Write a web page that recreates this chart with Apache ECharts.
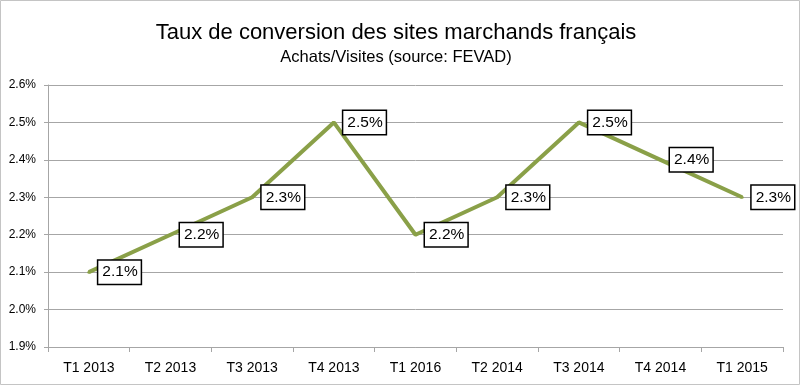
<!DOCTYPE html>
<html><head><meta charset="utf-8">
<script src="https://cdn.jsdelivr.net/npm/echarts@6/dist/echarts.min.js"></script>
<style>html,body{margin:0;padding:0;background:#fff}#c{width:800px;height:386px}</style>
</head><body><div id="c"></div>
<script>
const categories = ['T1 2013','T2 2013','T3 2013','T4 2013','T1 2016','T2 2014','T3 2014','T4 2014','T1 2015'];
const values = [2.1, 2.2, 2.3, 2.5, 2.2, 2.3, 2.5, 2.4, 2.3];
const yMin = 1.9, yMax = 2.6, yStep = 0.1;
const titleText = 'Taux de conversion des sites marchands français';
const subtitleText = 'Achats/Visites (source: FEVAD)';

const chart = echarts.init(document.getElementById('c'), null, {renderer:'canvas'});
const font = 'Liberation Sans';
const lineColor = '#8aa048';
chart.setOption({
  animation: false,
  backgroundColor: '#fff',
  title: {
    text: titleText, subtext: subtitleText, left: 391, textAlign: 'center', top: 17, itemGap: 5,
    textStyle: {fontFamily: font, fontSize: 22, fontWeight: 'normal', color: '#000'},
    subtextStyle: {fontFamily: font, fontSize: 16.5, color: '#000'}
  },
  graphic: [{type:'rect', shape:{x:0.5,y:0.5,width:799,height:384}, style:{fill:'none', stroke:'#c4c4c4', lineWidth:1}, silent:true}],
  grid: {left: 48, right: 17, top: 85, bottom: 39},
  xAxis: {
    type: 'category', data: categories, boundaryGap: true,
    axisLine: {lineStyle: {color: '#a6a6a6', width: 1}},
    axisTick: {show: true, length: 5, lineStyle: {color: '#a6a6a6'}},
    axisLabel: {fontFamily: font, fontSize: 14, color: '#000', margin: 14}
  },
  yAxis: {
    type: 'value', min: yMin, max: yMax, interval: yStep,
    axisLine: {show: true, lineStyle: {color: '#a6a6a6', width: 1}},
    axisTick: {show: true, length: 4, lineStyle: {color: '#a6a6a6'}},
    splitLine: {lineStyle: {color: '#a6a6a6', width: 1}},
    axisLabel: {fontFamily: font, fontSize: 12, color: '#000', margin: 12,
      formatter: v => v.toFixed(1) + '%'}
  },
  series: [{
    type: 'line', data: values, symbol: 'circle', symbolSize: 3, showSymbol: true,
    itemStyle: {color: lineColor},
    lineStyle: {color: lineColor, width: 4},
    z: 2,
    label: {
      show: true, position: 'right', distance: 8,
      formatter: p => p.value.toFixed(1) + '%',
      fontFamily: font, fontSize: 15.5, color: '#000',
      backgroundColor: '#fff', borderColor: '#000', borderWidth: 1.5,
      padding: [4, 3, 3, 4]
    }
  }]
});
</script></body></html>
